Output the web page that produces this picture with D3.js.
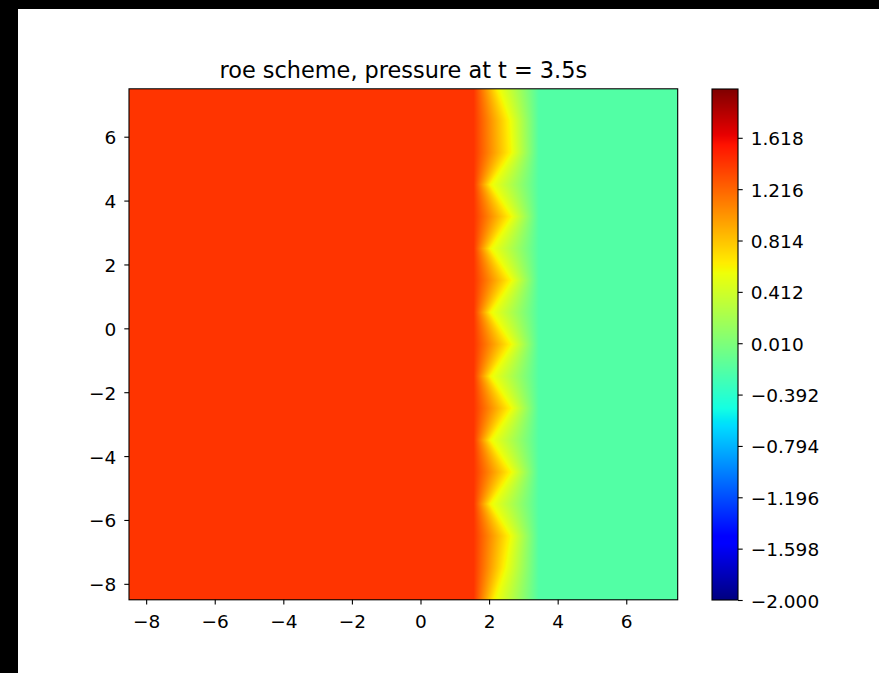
<!DOCTYPE html>
<html>
<head>
<meta charset="utf-8">
<script src="https://cdn.jsdelivr.net/npm/d3@7"></script>
<style>
  body { margin: 0; background: #000; }
  svg { display: block; }
</style>
</head>
<body>
<div id="viz"></div>
<script>
"use strict";

// axis ranges and ticks
const xDomain = [-8.5, 7.5];
const yDomain = [-8.5, 7.5];
const xTicks = [-8, -6, -4, -2, 0, 2, 4, 6];
const yTicks = [-8, -6, -4, -2, 0, 2, 4, 6];

// colorbar
const cDomain = [-2, 2];
const cTicks = [-2.000, -1.598, -1.196, -0.794, -0.392, 0.010, 0.412, 0.814, 1.216, 1.618];

// front position (x of the yellow ridge) read per row of y
const frontY   = [7.5, 6.5, 5.5, 4.5, 3.5, 2.5, 1.5, 0.5, -0.5, -1.5, -2.5, -3.5, -4.5, -5.5, -6.5, -7.5, -8.5];
const frontMid = [2.25, 2.58, 2.63, 2.04, 2.63, 2.04, 2.63, 2.04, 2.63, 2.04, 2.63, 2.04, 2.63, 2.04, 2.6, 2.45, 2.15];

// pressure across the front: left state, at ridge, right state
const edgeX = [1.55, 3.45];
const pressure = [1.42, 0.6, -0.2];

// matplotlib jet segments
const jetR = [[0, 0], [0.35, 0], [0.66, 1], [0.89, 1], [1, 0.5]];
const jetG = [[0, 0], [0.125, 0], [0.375, 1], [0.64, 1], [0.91, 0], [1, 0]];
const jetB = [[0, 0.5], [0.11, 1], [0.34, 1], [0.65, 0], [1, 0]];

function initChart() {
    let width = 879, height = 673;
    let fontFam = "DejaVu Sans, sans-serif";
    let tickFont = 18.5;

    let xScale = d3.scaleLinear().domain(xDomain).range([129, 677.7]);
    let yScale = d3.scaleLinear().domain(yDomain).range([599.8, 88.8]);
    let cScale = d3.scaleLinear().domain(cDomain).range([600, 89]);

    let chan = seg => d3.scaleLinear().domain(seg.map(d => d[0])).range(seg.map(d => d[1])).clamp(true);
    let rS = chan(jetR), gS = chan(jetG), bS = chan(jetB);
    let tNorm = d3.scaleLinear().domain(cDomain).range([0, 1]).clamp(true);
    let jet = v => {
        let t = tNorm(v);
        return [Math.round(rS(t) * 255), Math.round(gS(t) * 255), Math.round(bS(t) * 255)];
    };

    let svg = d3.select('#viz')
                .append('svg')
                .attr('width', width)
                .attr('height', height);

    svg.append('rect').attr('width', width).attr('height', height).attr('fill', '#000');
    svg.append('rect').attr('x', 18).attr('y', 9)
       .attr('width', width - 18).attr('height', height - 9).attr('fill', '#fff');

    // field raster
    let x0 = Math.round(xScale.range()[0]), x1 = Math.round(xScale.range()[1]);
    let y0 = Math.round(yScale.range()[1]), y1 = Math.round(yScale.range()[0]);
    let w = x1 - x0, h = y1 - y0;
    let canvas = document.createElement('canvas');
    canvas.width = w; canvas.height = h;
    let ctx = canvas.getContext('2d');
    let img = ctx.createImageData(w, h);
    let midAt = d3.scaleLinear().domain(frontY).range(frontMid).clamp(true);
    for (let j = 0; j < h; j++) {
        let yv = yScale.invert(y0 + j + 0.5);
        let prof = d3.scaleLinear().domain([edgeX[0], midAt(yv), edgeX[1]]).range(pressure).clamp(true);
        for (let i = 0; i < w; i++) {
            let xv = xScale.invert(x0 + i + 0.5);
            let c = jet(prof(xv));
            let k = (j * w + i) * 4;
            img.data[k] = c[0]; img.data[k + 1] = c[1]; img.data[k + 2] = c[2]; img.data[k + 3] = 255;
        }
    }
    ctx.putImageData(img, 0, 0);
    svg.append('image')
       .attr('x', x0).attr('y', y0)
       .attr('width', w).attr('height', h)
       .attr('preserveAspectRatio', 'none')
       .attr('href', canvas.toDataURL());

    // colorbar raster
    let cb = document.createElement('canvas');
    let cbH = 511;
    cb.width = 1; cb.height = cbH;
    let cctx = cb.getContext('2d');
    let cimg = cctx.createImageData(1, cbH);
    for (let j = 0; j < cbH; j++) {
        let c = jet(cScale.invert(89 + j + 0.5));
        cimg.data[j * 4] = c[0]; cimg.data[j * 4 + 1] = c[1]; cimg.data[j * 4 + 2] = c[2]; cimg.data[j * 4 + 3] = 255;
    }
    cctx.putImageData(cimg, 0, 0);
    svg.append('image')
       .attr('x', 712).attr('y', 89)
       .attr('width', 26).attr('height', cbH)
       .attr('preserveAspectRatio', 'none')
       .attr('href', cb.toDataURL());

    // axes
    let fmtInt = d3.format("d");
    let xAxis = svg.append('g')
                   .attr('transform', `translate(0,${yScale.range()[0]})`)
                   .call(d3.axisBottom(xScale).tickValues(xTicks).tickFormat(fmtInt)
                           .tickSize(4.7).tickPadding(10));
    let yAxis = svg.append('g')
                   .attr('transform', `translate(${xScale.range()[0]},0)`)
                   .call(d3.axisLeft(yScale).tickValues(yTicks).tickFormat(fmtInt)
                           .tickSize(4.7).tickPadding(8));
    let cAxis = svg.append('g')
                   .attr('transform', 'translate(738,0)')
                   .call(d3.axisRight(cScale).tickValues(cTicks).tickFormat(d3.format(".3f"))
                           .tickSize(4.7).tickPadding(8));

    [xAxis, yAxis, cAxis].forEach(g => {
        g.select('.domain').remove();
        g.attr('font-family', fontFam).attr('font-size', tickFont);
        g.selectAll('.tick line').attr('stroke', '#000').attr('stroke-width', 1.1);
        g.selectAll('.tick text').attr('fill', '#000');
    });
    yAxis.selectAll('.tick text').attr('dy', '0.38em');
    cAxis.selectAll('.tick text').attr('dy', '0.38em');

    // frames
    svg.append('rect')
       .attr('x', xScale.range()[0]).attr('y', yScale.range()[1])
       .attr('width', xScale.range()[1] - xScale.range()[0])
       .attr('height', yScale.range()[0] - yScale.range()[1])
       .attr('fill', 'none').attr('stroke', '#000').attr('stroke-width', 1.1);
    svg.append('rect')
       .attr('x', 712).attr('y', 89).attr('width', 26).attr('height', 511)
       .attr('fill', 'none').attr('stroke', '#000').attr('stroke-width', 1.1);

    // title
    svg.append('text')
       .attr('x', (xScale.range()[0] + xScale.range()[1]) / 2)
       .attr('y', 78)
       .attr('text-anchor', 'middle')
       .attr('font-family', fontFam)
       .attr('font-size', 22.4)
       .attr('fill', '#000')
       .text('roe scheme, pressure at t = 3.5s');
}

initChart();
</script>
</body>
</html>
